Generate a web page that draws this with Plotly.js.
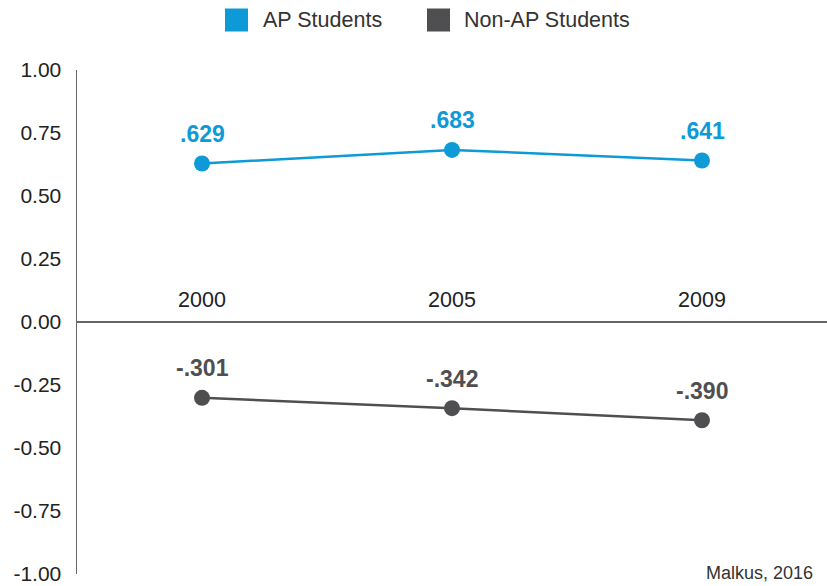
<!DOCTYPE html>
<html>
<head>
<meta charset="utf-8">
<script src="https://cdn.plot.ly/plotly-3.0.1.min.js"></script>
<style>html,body{margin:0;padding:0;background:#fff;}#chart{width:827px;height:586px;}</style>
</head>
<body>
<div id="chart"></div>
<script>
// ---- data ----
var years = ['2000', '2005', '2009'];
var apValues = [0.629, 0.683, 0.641];
var nonApValues = [-0.301, -0.342, -0.390];
var seriesNames = ['AP Students', 'Non-AP Students'];
var seriesColors = ['#0d9ad6', '#4f4f51'];
var yTickVals = [1, 0.75, 0.5, 0.25, 0, -0.25, -0.5, -0.75, -1];
var yTickText = yTickVals.map(function (v) { return v.toFixed(2); });
var sourceText = 'Malkus, 2016';

var FONT = '"Liberation Sans", Arial, sans-serif';

function fmtLabel(v) {
  var s = Math.abs(v).toFixed(3).replace(/^0/, '');
  return (v < 0 ? '-' : '') + s;
}

var seriesValues = [apValues, nonApValues];
var traces = seriesValues.map(function (vals, i) {
  return {
    type: 'scatter',
    mode: 'lines+markers',
    x: years,
    y: vals,
    name: seriesNames[i],
    showlegend: false,
    line: { color: seriesColors[i], width: 2.5 },
    marker: { color: seriesColors[i], size: 16 },
    hoverinfo: 'x+y'
  };
});

var annotations = [];
seriesValues.forEach(function (vals, i) {
  vals.forEach(function (v, j) {
    annotations.push({
      x: j, y: v, xref: 'x', yref: 'y',   // category index of years[j]
      text: fmtLabel(v), showarrow: false,
      yshift: 29.5, yanchor: 'middle',
      font: { family: FONT, size: 23, color: seriesColors[i], weight: 'bold' }
    });
  });
});

// custom legend (square swatches)
var legendX = [0.2127, 0.482];
var legendTextX = [0.2453, 0.5127];
var legendY = 1.0992;
var shapes = [];
seriesNames.forEach(function (n, i) {
  shapes.push({
    type: 'rect', xref: 'paper', yref: 'paper',
    xsizemode: 'pixel', ysizemode: 'pixel',
    xanchor: legendX[i], yanchor: legendY,
    x0: -11.5, x1: 11.5, y0: -11.5, y1: 11.5,
    fillcolor: seriesColors[i], line: { width: 0 }
  });
  annotations.push({
    x: legendTextX[i], y: legendY, xref: 'paper', yref: 'paper',
    text: n, showarrow: false, xanchor: 'left', yanchor: 'middle',
    font: { family: FONT, size: 21.5, color: '#333333' }
  });
});

annotations.push({
  x: 0.984, y: 0.002, xref: 'paper', yref: 'paper',
  text: sourceText, showarrow: false, xanchor: 'right', yanchor: 'middle',
  font: { family: FONT, size: 18, color: '#333333' }
});

var yRange = [-1, 1];

var layout = {
  width: 827, height: 586,
  margin: { l: 77, r: 0, t: 70, b: 12, pad: 0 },
  paper_bgcolor: '#ffffff', plot_bgcolor: '#ffffff',
  showlegend: false,
  font: { family: FONT, size: 21, color: '#222222' },
  xaxis: {
    type: 'category',
    range: [-0.5, 2.5],
    anchor: 'free',
    position: (0 - yRange[0]) / (yRange[1] - yRange[0]),
    side: 'top',
    showline: false, showgrid: false, zeroline: false,
    ticks: '', ticklabelstandoff: 11,
    tickfont: { family: FONT, size: 21.5, color: '#222222' },
    fixedrange: true
  },
  yaxis: {
    range: yRange,
    tickvals: yTickVals, ticktext: yTickText,
    showgrid: false,
    showline: true, linecolor: '#666666', linewidth: 1.5,
    zeroline: true, zerolinecolor: '#666666', zerolinewidth: 1.5,
    ticks: '', ticklabelstandoff: 10,
    tickfont: { family: FONT, size: 21, color: '#222222' },
    fixedrange: true
  },
  shapes: shapes,
  annotations: annotations
};

Plotly.newPlot('chart', traces, layout, { displayModeBar: false, staticPlot: true });
</script>
</body>
</html>
